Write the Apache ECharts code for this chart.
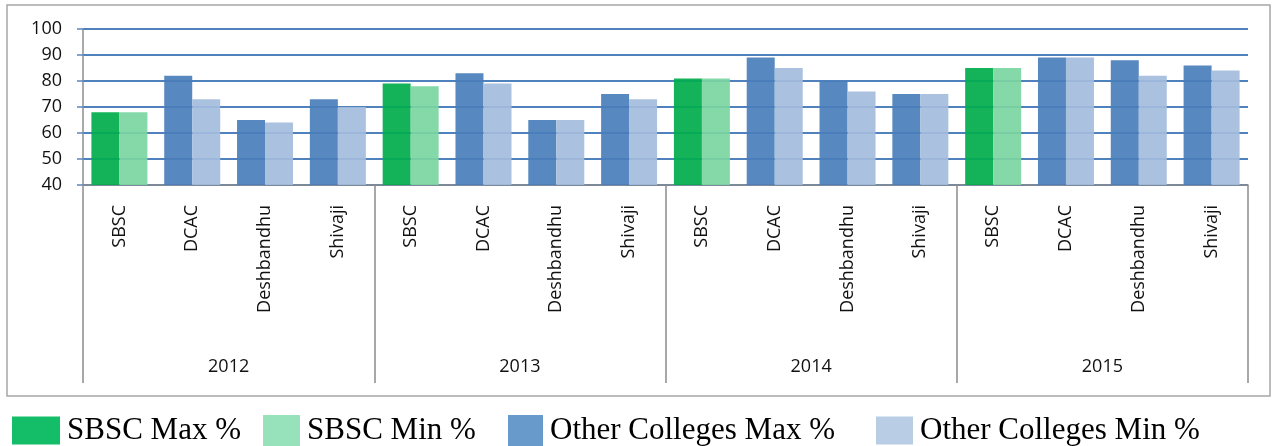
<!DOCTYPE html>
<html>
<head>
<meta charset="utf-8">
<script src="https://cdn.jsdelivr.net/npm/echarts@6/dist/echarts.min.js"></script>
<style>
  html, body { margin: 0; padding: 0; background: #fff; }
  #chart { width: 1273px; height: 446px; }
</style>
</head>
<body>
<div id="chart"></div>
<script>
// data
var years = ['2012', '2013', '2014', '2015'];
var colleges = ['SBSC', 'DCAC', 'Deshbandhu', 'Shivaji'];
var maxPct = [68, 82, 65, 73, 79, 83, 65, 75, 81, 89, 80, 75, 85, 89, 88, 86];
var minPct = [68, 73, 64, 70, 78, 79, 65, 73, 81, 85, 76, 75, 85, 89, 82, 84];
var seriesNames = ['SBSC Max %', 'SBSC Min %', 'Other Colleges Max %', 'Other Colleges Min %'];
var yTicks = [40, 50, 60, 70, 80, 90, 100];

var categories = [];
years.forEach(function () {
  colleges.forEach(function (c) { categories.push(c); });
});

// SBSC bars get the green colours, the other colleges the blue ones
function pick(arr, sbsc) {
  return arr.map(function (v, i) {
    var isSbsc = categories[i] === 'SBSC';
    return isSbsc === sbsc ? v : '-';
  });
}

var colors = ['#00AC4C', '#7BD5A1', '#4A7EBB', '#A3BCDC'];
var legendColors = ['#00B85C', '#8EDFB5', '#5B93C8', '#B3CAE3'];

var chart = echarts.init(document.getElementById('chart'));

function makeSeries(idx, data, stack) {
  return {
    name: seriesNames[idx],
    type: 'bar',
    stack: stack,
    data: data,
    barWidth: 28,
    barGap: '0%',
    itemStyle: { color: colors[idx], opacity: 0.92 },
    emphasis: { disabled: true }
  };
}

// one legend per item so each sits where the picture has it
var legendLeft = [7, 258, 503, 871];
var legendBox = [[48, 28], [37, 32], [35, 31], [37, 28]];
var legends = seriesNames.map(function (n, i) {
  return {
    data: [{ name: n, itemStyle: { color: legendColors[i] } }],
    left: legendLeft[i],
    top: 410,
    icon: 'rect',
    itemWidth: legendBox[i][0],
    itemHeight: legendBox[i][1],
    selectedMode: false,
    textStyle: { fontFamily: 'Liberation Serif', fontSize: 31, color: '#000', padding: [0, 0, 0, 2] }
  };
});

var option = {
  animation: false,
  backgroundColor: '#fff',
  graphic: [{
    type: 'rect',
    shape: { x: 7, y: 5, width: 1263, height: 391 },
    style: { fill: 'none', stroke: '#a6a6a6', lineWidth: 1.5 },
    silent: true
  }],
  legend: legends,
  grid: { left: 83, right: 25, top: 29, bottom: 261, containLabel: false },
  xAxis: [{
    type: 'category',
    data: categories,
    axisLine: { lineStyle: { color: '#8c8c8c', width: 1.5 } },
    axisTick: { show: false },
    axisLabel: {
      rotate: 90,
      align: 'right',
      verticalAlign: 'middle',
      margin: 20,
      interval: 0,
      fontFamily: 'Open Sans',
      fontSize: 18,
      color: '#111'
    }
  }, {
    type: 'category',
    data: years,
    position: 'bottom',
    axisLine: { show: false },
    axisTick: { show: true, length: 198, lineStyle: { color: '#8c8c8c', width: 1.5 } },
    axisLabel: {
      margin: 173,
      fontFamily: 'Open Sans',
      fontSize: 18,
      color: '#111'
    }
  }],
  yAxis: {
    type: 'value',
    min: yTicks[0],
    max: yTicks[yTicks.length - 1],
    interval: 10,
    axisLine: { show: true, lineStyle: { color: '#8c8c8c', width: 1.5 } },
    axisTick: { show: true, length: 6, lineStyle: { color: '#5a86be', width: 1.5 } },
    splitLine: { lineStyle: { color: '#4F81BD', width: 2 } },
    axisLabel: {
      margin: 21,
      fontFamily: 'Open Sans',
      fontSize: 18,
      color: '#111'
    }
  },
  series: [
    makeSeries(0, pick(maxPct, true), 'max'),
    makeSeries(2, pick(maxPct, false), 'max'),
    makeSeries(1, pick(minPct, true), 'min'),
    makeSeries(3, pick(minPct, false), 'min')
  ]
};

chart.setOption(option);
</script>
</body>
</html>
